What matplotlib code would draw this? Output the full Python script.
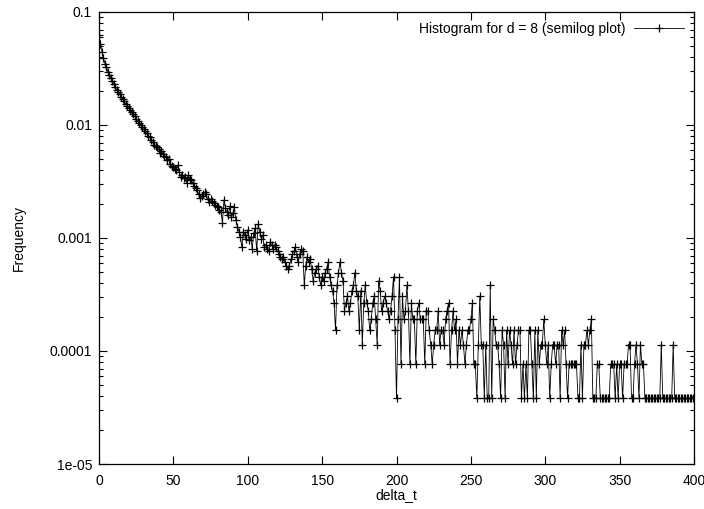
import numpy as np
import matplotlib
matplotlib.use("Agg")
import matplotlib.pyplot as plt
from matplotlib.ticker import FixedLocator, FixedFormatter, LogLocator, NullFormatter

plt.rcParams['font.family'] = ['Liberation Sans', 'DejaVu Sans']

# histogram counts per delta_t (0..400)
counts = [
    1650, 1380, 1170, 1030, 920, 850, 780, 730, 690, 640,
    610, 570, 540, 510, 490, 465, 445, 425, 400, 390,
    375, 360, 345, 330, 315, 300, 285, 275, 265, 250,
    240, 232, 222, 210, 205, 195, 185, 175, 170, 168,
    160, 150, 155, 145, 140, 138, 128, 132, 120, 115,
    112, 108, 105, 116, 100, 92, 95, 90, 92, 81,
    95, 88, 86, 80, 76, 73, 70, 64, 59, 62,
    65, 67, 64, 58, 55, 58, 56, 54, 52, 50,
    49, 47, 45, 36, 57, 48, 45, 42, 50, 40,
    44, 49, 38, 33, 30, 27, 22, 30, 28, 26,
    31, 25, 27, 21, 29, 32, 20, 35, 30, 26,
    28, 22, 23, 21, 20, 24, 23, 21, 23, 22,
    20, 19, 18, 17, 18, 16, 15, 14, 15, 17,
    19, 20, 22, 18, 16, 19, 21, 20, 10, 15,
    18, 16, 17, 14, 11, 13, 14, 15, 12, 10,
    12, 11, 13, 14, 16, 12, 10, 9, 7, 4,
    10, 13, 16, 13, 11, 6, 7, 8, 6, 7,
    9, 10, 13, 9, 8, 4, 9, 3, 7, 10,
    7, 6, 4, 5, 7, 8, 5, 3, 11, 9,
    6, 7, 8, 7, 6, 5, 6, 8, 12, 4,
    1, 5, 12, 2, 8, 5, 6, 10, 6, 2,
    7, 5, 5, 2, 6, 7, 5, 5, 5, 2,
    6, 6, 4, 3, 2, 3, 4, 4, 6, 3,
    4, 4, 3, 5, 6, 7, 2, 4, 6, 4,
    5, 2, 4, 3, 4, 3, 2, 3, 4, 4,
    5, 7, 2, 2, 1, 3, 8, 3, 3, 1,
    3, 1, 1, 10, 1, 5, 4, 3, 3, 2,
    1, 4, 3, 1, 4, 2, 4, 3, 2, 4,
    2, 3, 4, 4, 1, 2, 1, 2, 1, 4,
    4, 2, 1, 4, 1, 4, 2, 3, 3, 5,
    3, 2, 3, 1, 2, 3, 3, 2, 3, 3,
    1, 4, 3, 4, 2, 1, 2, 2, 2, 2,
    2, 2, 1, 1, 3, 1, 3, 3, 4, 3,
    4, 5, 1, 1, 1, 2, 2, 1, 1, 1,
    1, 1, 1, 1, 2, 2, 2, 1, 2, 1,
    2, 2, 1, 2, 2, 2, 3, 3, 1, 1,
    2, 3, 2, 1, 3, 2, 2, 1, 1, 1,
    1, 1, 1, 1, 1, 1, 1, 1, 3, 1,
    1, 1, 1, 1, 1, 1, 3, 1, 1, 1,
    1, 1, 1, 1, 1, 1, 1, 1, 1, 1,
    1,
]
total = 26300
delta_t = np.arange(len(counts))
freq = np.array(counts) / total

x_ticks = [0, 50, 100, 150, 200, 250, 300, 350, 400]
y_ticks = [1e-5, 1e-4, 1e-3, 1e-2, 1e-1]
y_labels = ["1e-05", "0.0001", "0.001", "0.01", "0.1"]

fig = plt.figure(figsize=(7.04, 5.09), dpi=100)
ax = fig.add_axes([99 / 704, 45 / 509, 595 / 704, 452 / 509])

ax.plot(delta_t, freq, color='black', lw=0.6, marker='+', ms=6, mew=0.9,
        label='Histogram for d = 8 (semilog plot)')

ax.set_yscale('log')
ax.set_xlim(0, 400)
ax.set_ylim(1e-5, 0.1)
ax.xaxis.set_major_locator(FixedLocator(x_ticks))
ax.yaxis.set_major_locator(FixedLocator(y_ticks))
ax.yaxis.set_major_formatter(FixedFormatter(y_labels))
ax.yaxis.set_minor_locator(LogLocator(base=10, subs=np.arange(2, 10)))
ax.yaxis.set_minor_formatter(NullFormatter())

ax.tick_params(which='both', direction='in', top=True, right=True, labelsize=10)
ax.tick_params(which='major', length=6, width=0.8)
ax.tick_params(which='minor', length=3, width=0.8)
ax.tick_params(axis='x', pad=7)
ax.tick_params(axis='y', pad=5)
for s in ax.spines.values():
    s.set_linewidth(0.9)

ax.set_xlabel('delta_t', fontsize=10, labelpad=0)
ax.set_ylabel('Frequency', fontsize=10, labelpad=17)

ax.legend(loc='upper right', frameon=False, markerfirst=False, fontsize=10,
          handlelength=3.6, handletextpad=0.6, borderaxespad=0.3)

fig.savefig('out.png', dpi=100)
